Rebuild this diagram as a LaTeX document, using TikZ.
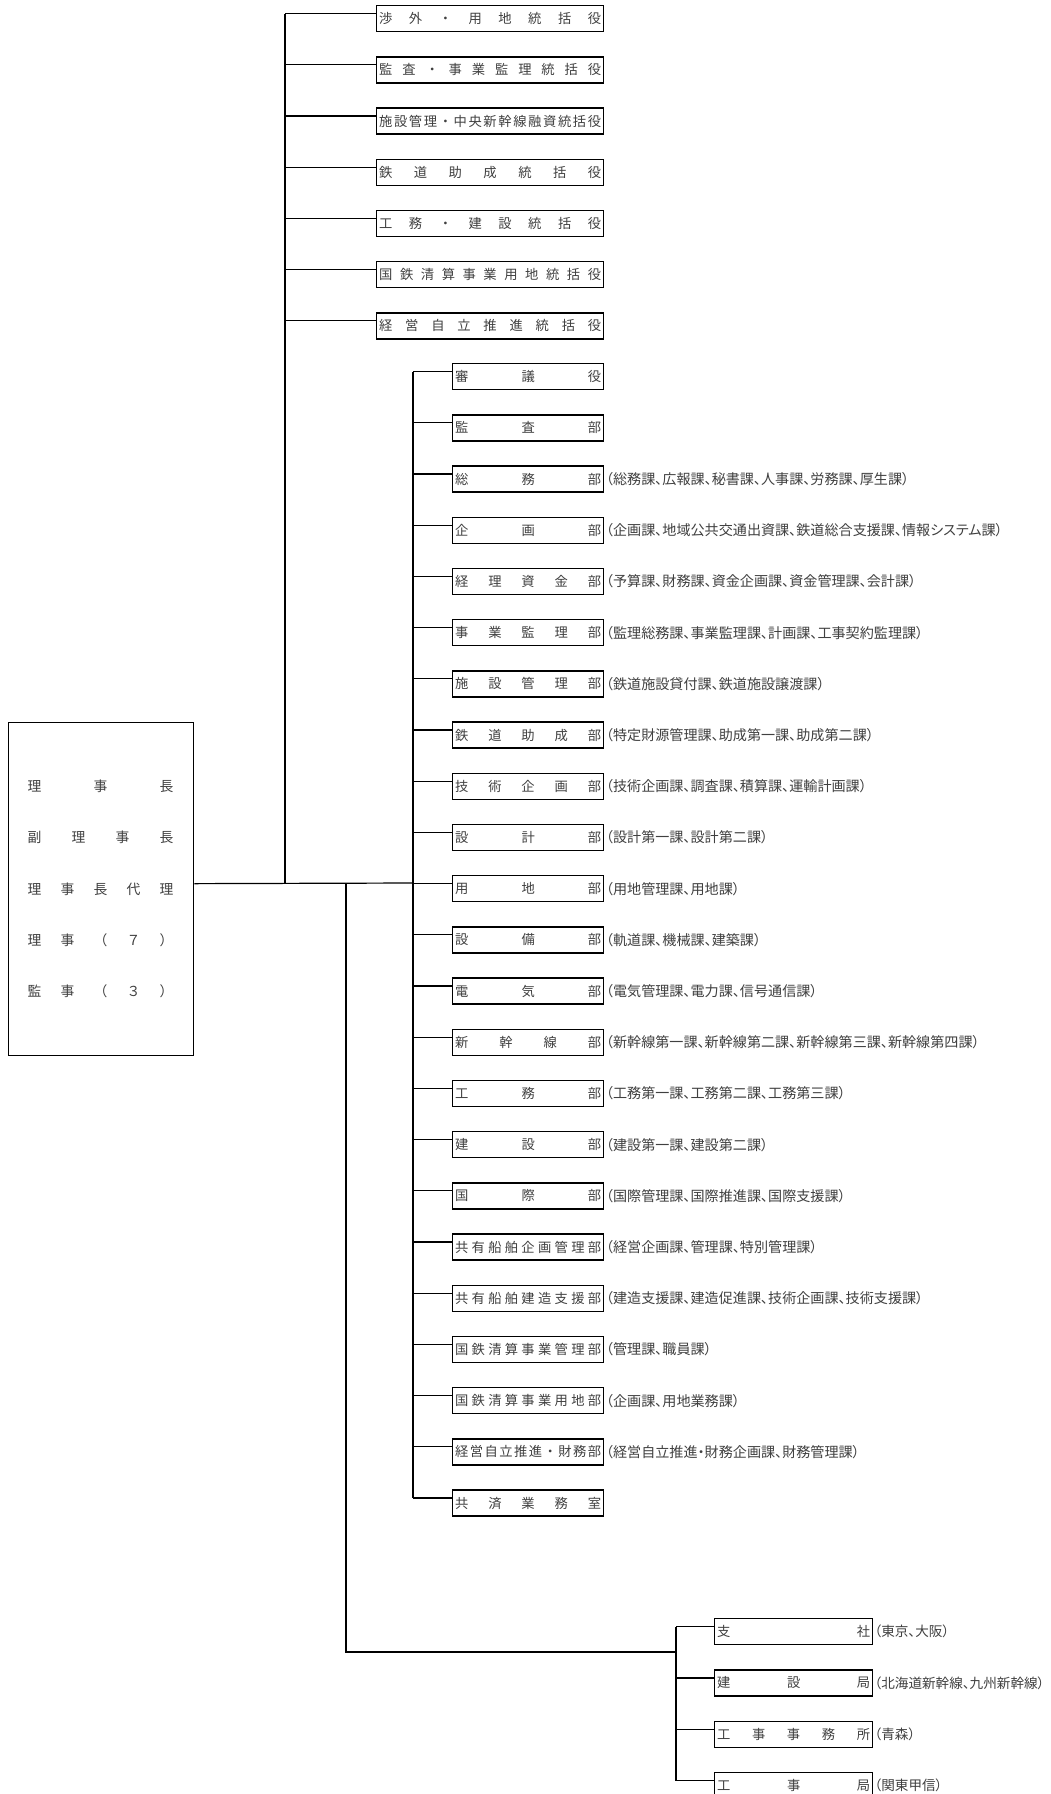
\documentclass[tikz,border=0pt]{standalone}
\usepackage{fontspec}
\setmainfont{Noto Sans CJK JP}
\newfontfamily\annfont[RawFeature=+palt]{Noto Sans CJK JP}
\usetikzlibrary{calc}
\makeatletter
\newcommand\spreadtxt[2]{\hbox to #1{\def\sp@sep{}\edef\sp@list{#2}%
  \expandafter\@tfor\expandafter\sp@c\expandafter:\expandafter=\sp@list\do{\sp@sep\sp@c\def\sp@sep{\hfill}}}}
\makeatother
\begin{document}
\begin{tikzpicture}[x=1pt,y=-1pt,
  boxst/.style={draw=black, line width=1.3pt, inner sep=0pt, anchor=north west, minimum height=26pt, text=black!75, font=\fontsize{13.3}{14}\selectfont},
  annst/.style={inner sep=0pt, anchor=west, text=black!75, font=\annfont\fontsize{14.1}{15}\selectfont},
  annsmall/.style={annst, font=\annfont\fontsize{13.6}{15}\selectfont},
  conn/.style={draw=black, line width=1.2pt},
  bosstxt/.style={inner sep=0pt, text=black!75, font=\fontsize{13.8}{15}\selectfont}]
\useasboundingbox[fill=white] (0,0) rectangle (1051,1794);
\clip (0,0) rectangle (1051,1794);

% head box
\node[draw=black, line width=1.3pt, anchor=north west, minimum width=185pt, minimum height=333pt, inner sep=0pt] (boss) at (8,722) {};
\foreach \k/\lab in {0/理事長,1/副理事長,2/理事長代理,3/理事（７）,4/監事（３）}
  \node[bosstxt] (r\k) at (100.5,{786.5+51.2*\k}) {\spreadtxt{146pt}{\lab}};

% group 1
\foreach \i/\lab in {1/渉外・用地統括役,2/監査・事業監理統括役,3/施設管理・中央新幹線融資統括役,4/鉄道助成統括役,5/工務・建設統括役,6/国鉄清算事業用地統括役,7/経営自立推進統括役}
  \node[boxst, minimum width=227pt] (a\i) at (376,{5+51.2*(\i-1)}) {\spreadtxt{222pt}{\lab}};

% group 2
\foreach \i/\lab in {1/審議役,2/監査部,3/総務部,4/企画部,5/経理資金部,6/事業監理部,7/施設管理部,8/鉄道助成部,9/技術企画部,10/設計部,11/用地部,12/設備部,13/電気部,14/新幹線部,15/工務部,16/建設部,17/国際部,18/共有船舶企画管理部,19/共有船舶建造支援部,20/国鉄清算事業管理部,21/国鉄清算事業用地部,22/経営自立推進・財務部,23/共済業務室}
  \node[boxst, minimum width=151pt] (b\i) at (452,{363+51.2*(\i-1)}) {\spreadtxt{146pt}{\lab}};

\foreach \i/\ann in {3/（総務課、広報課、秘書課、人事課、労務課、厚生課）,
  4/（企画課、地域公共交通出資課、鉄道総合支援課、情報システム課）,
  5/（予算課、財務課、資金企画課、資金管理課、会計課）,
  6/（監理総務課、事業監理課、計画課、工事契約監理課）,
  7/（鉄道施設貸付課、鉄道施設譲渡課）,
  8/（特定財源管理課、助成第一課、助成第二課）,
  9/（技術企画課、調査課、積算課、運輸計画課）,
  10/（設計第一課、設計第二課）,
  11/（用地管理課、用地課）,
  12/（軌道課、機械課、建築課）,
  13/（電気管理課、電力課、信号通信課）,
  14/（新幹線第一課、新幹線第二課、新幹線第三課、新幹線第四課）,
  15/（工務第一課、工務第二課、工務第三課）,
  16/（建設第一課、建設第二課）,
  17/（国際管理課、国際推進課、国際支援課）,
  18/（経営企画課、管理課、特別管理課）,
  19/（建造支援課、建造促進課、技術企画課、技術支援課）,
  20/（管理課、職員課）,
  21/（企画課、用地業務課）,
  22/（経営自立推進・財務企画課、財務管理課）}
  \node[annst] (bn\i) at ([xshift=1.5pt]b\i.east) {\ann};

% group 3
\foreach \i/\lab in {1/支社,2/建設局,3/工事事務所,4/工事局}
  \node[boxst, minimum width=158pt] (c\i) at (714,{1618+51.3*(\i-1)}) {\spreadtxt{153pt}{\lab}};
\foreach \i/\ann in {1/（東京、大阪）,2/（北海道新幹線、九州新幹線）,3/（青森）,4/（関東甲信）}
  \node[annsmall] (cn\i) at ([xshift=1pt]c\i.east) {\ann};

% connectors
\coordinate (J) at ([yshift=5.5pt]boss.east);
\coordinate (T1) at (285,883);
\coordinate (T2) at (413,883);
\coordinate (T3) at (346,883);
\coordinate (T4) at (676,1652);
\draw[conn] (J) -- (T2);
\draw[conn] ([yshift=5pt]a1.west -| T1) -- (T1);
\foreach \i in {1,...,7} \draw[conn] ([yshift=5pt]a\i.west) -- ([yshift=5pt]a\i.west -| T1);
\draw[conn] ([yshift=5pt]b1.west -| T2) -- ([yshift=5pt]b23.west -| T2);
\foreach \i in {1,...,23} \draw[conn] ([yshift=5pt]b\i.west) -- ([yshift=5pt]b\i.west -| T2);
\draw[conn] (T3) |- (T4);
\draw[conn] ([yshift=5pt]c1.west -| T4) -- ([yshift=5pt]c4.west -| T4);
\foreach \i in {1,...,4} \draw[conn] ([yshift=5pt]c\i.west) -- ([yshift=5pt]c\i.west -| T4);
\end{tikzpicture}
\end{document}
